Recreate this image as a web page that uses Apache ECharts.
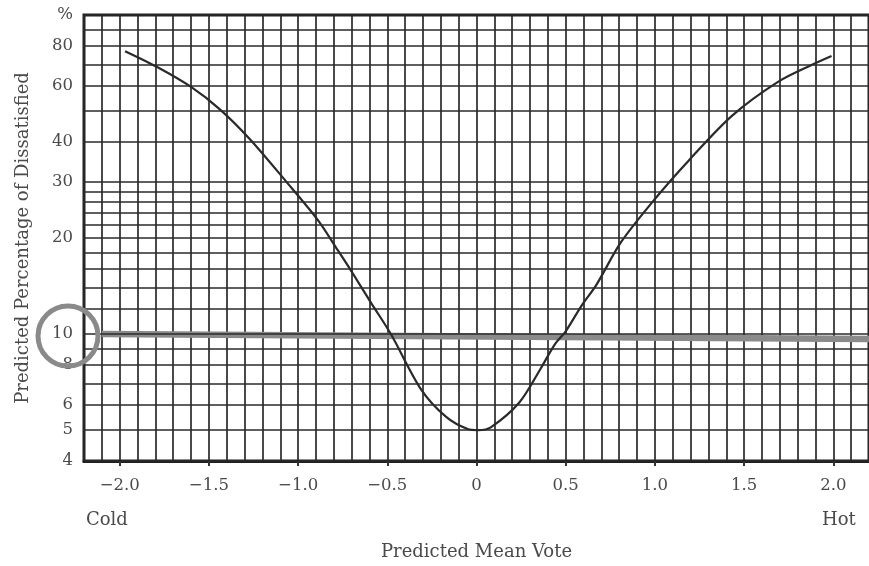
<!DOCTYPE html>
<html>
<head>
<meta charset="utf-8">
<script src="https://cdn.jsdelivr.net/npm/echarts@6/dist/echarts.min.js"></script>
<style>
html,body{margin:0;padding:0;background:#fff;}
#chart{width:869px;height:566px;}
</style>
</head>
<body>
<div id="chart"></div>
<script>
// ---- data ----
const pmv = [-1.97, -1.79, -1.60, -1.44, -1.27, -1.07, -0.89, -0.78, -0.70, -0.59, -0.48, -0.31, -0.17, -0.05, 0.01, 0.08, 0.24, 0.36, 0.44, 0.50, 0.59, 0.67, 0.81, 1.00, 1.19, 1.43, 1.69, 1.89, 1.99];
const ppd = [77, 68.7, 59.5, 50.7, 40.8, 30.2, 22.8, 18.4, 15.7, 12.5, 10.0, 6.7, 5.5, 5.04, 5.0, 5.1, 6.1, 7.8, 9.3, 10.2, 12.3, 14.2, 19.4, 26.5, 35.0, 48.2, 61.7, 70.2, 74.4];

const xTickValues = [-2, -1.5, -1, -0.5, 0, 0.5, 1, 1.5, 2];
const xTickLabels = ['\u22122.0', '\u22121.5', '\u22121.0', '\u22120.5', '0', '0.5', '1.0', '1.5', '2.0'];

const yTickValues = [4, 5, 6, 8, 10, 20, 30, 40, 60, 80, 100];
const yTickLabels = ['4', '5', '6', '8', '10', '20', '30', '40', '60', '80', '%'];

const hGridValues = [4, 5, 6, 7, 8, 9, 10, 12, 14, 16, 18, 20, 22, 24, 26, 28, 30, 40, 50, 60, 70, 80, 90, 100];

const highlightPmv = [-2.1, 2.2];
const highlightPpd = [10, 9.65];

const xMin = -2.2, xMax = 2.2, xStep = 0.1;
const yMin = 4, yMax = 100;

// ---- chart ----
const FONT = 'DejaVu Serif';
const TXT = '#4a4a4a';
const GRIDC = '#2a2a2a';

const chart = echarts.init(document.getElementById('chart'), null, {renderer: 'canvas'});

const curveData = pmv.map((x, i) => [x, ppd[i]]);
const highlightData = highlightPmv.map((x, i) => [x, highlightPpd[i]]);

const gridLines = hGridValues.map(v => {
  const idx = yTickValues.indexOf(v);
  const item = {yAxis: v};
  if (idx >= 0) {
    item.label = {show: true, formatter: yTickLabels[idx]};
  } else {
    item.label = {show: false};
  }
  return item;
});

const option = {
  animation: false,
  backgroundColor: '#fff',
  grid: {
    left: 84, right: -3, top: 15, bottom: 104,
    show: true, borderColor: '#1e1e1e', borderWidth: 3, backgroundColor: 'transparent'
  },
  xAxis: [
    {
      type: 'value',
      min: xMin, max: xMax, interval: xStep,
      name: 'Predicted Mean Vote',
      nameLocation: 'middle',
      nameGap: 82,
      nameTextStyle: {fontFamily: FONT, fontSize: 18, color: TXT},
      axisLine: {show: true, lineStyle: {color: '#1e1e1e', width: 3}},
      axisTick: {show: true, customValues: xTickValues, length: 5, lineStyle: {color: '#333', width: 2}},
      axisLabel: {
        show: true,
        customValues: xTickValues,
        margin: 16,
        fontFamily: FONT, fontSize: 16.5, color: TXT,
        formatter: function (v) {
          for (let i = 0; i < xTickValues.length; i++) {
            if (Math.abs(xTickValues[i] - v) < 1e-6) return xTickLabels[i];
          }
          return '';
        }
      },
      splitLine: {show: false}
    },
    {
      type: 'value',
      position: 'bottom',
      min: xMin, max: xMax, interval: xStep,
      axisLine: {show: false},
      axisTick: {show: false},
      axisLabel: {show: false},
      splitLine: {show: true, lineStyle: {color: GRIDC, width: 1.7}}
    }
  ],
  yAxis: {
    type: 'log',
    logBase: 10,
    min: yMin, max: yMax,
    name: 'Predicted Percentage of Dissatisfied',
    nameLocation: 'middle',
    nameGap: 52,
    nameTextStyle: {fontFamily: FONT, fontSize: 18, color: TXT},
    axisLine: {show: false},
    axisTick: {show: false},
    axisLabel: {show: false},
    splitLine: {show: false}
  },
  series: [
    {
      name: 'grid',
      type: 'line',
      data: [],
      silent: true,
      z: 1,
      markLine: {
        silent: true,
        symbol: ['none', 'none'],
        animation: false,
        lineStyle: {type: 'solid', color: GRIDC, width: 1.7},
        label: {
          position: 'start',
          distance: 11,
          fontFamily: FONT, fontSize: 16.5, color: TXT
        },
        emphasis: {disabled: true},
        data: gridLines
      }
    },
    {
      name: 'highlight',
      type: 'line',
      data: highlightData,
      silent: true,
      z: 2,
      symbol: 'none',
      lineStyle: {color: '#8a8a8a', width: 6.5},
      clip: false
    },
    {
      name: 'PPD',
      type: 'line',
      data: curveData,
      z: 3,
      symbol: 'none',
      smooth: 0.3,
      lineStyle: {color: '#2a2a2a', width: 2.2}
    }
  ],
  graphic: [
    {
      type: 'circle',
      shape: {cx: 68, cy: 336, r: 30},
      style: {fill: 'none', stroke: '#8a8a8a', lineWidth: 5},
      z: 100, silent: true
    },
    {
      type: 'text',
      left: 86, top: 511,
      style: {text: 'Cold', fontFamily: FONT, fontSize: 18, fill: TXT}
    },
    {
      type: 'text',
      left: 822, top: 511,
      style: {text: 'Hot', fontFamily: FONT, fontSize: 18, fill: TXT}
    }
  ]
};

chart.setOption(option);
</script>
</body>
</html>
